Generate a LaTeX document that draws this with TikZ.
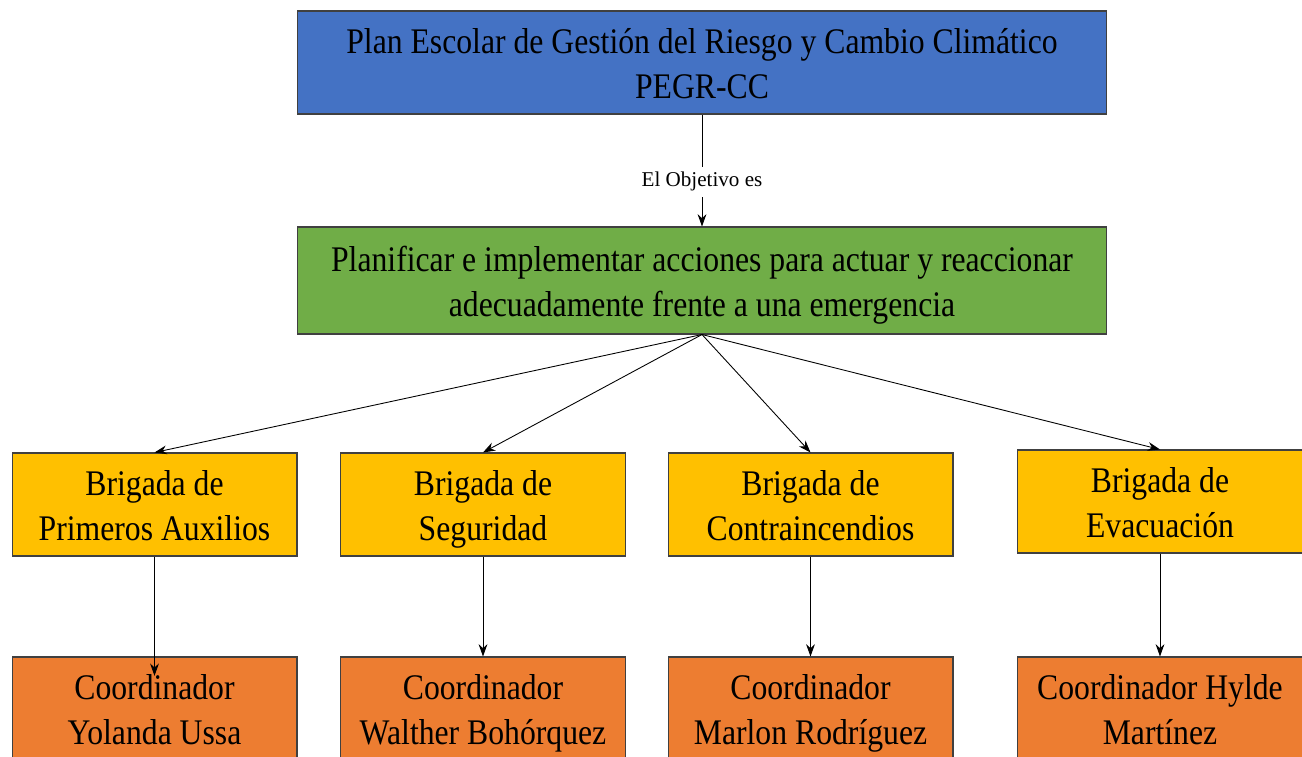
\documentclass[tikz,border=0pt]{standalone}
\usepackage{fontspec}
\setmainfont{Liberation Serif}
\newfontfamily\narrowserif{Liberation Serif}[FakeStretch=0.88]
\usetikzlibrary{arrows.meta}
\definecolor{planblue}{HTML}{4472C4}
\definecolor{goalgreen}{HTML}{70AD47}
\definecolor{brigyellow}{HTML}{FFC000}
\definecolor{coordorange}{HTML}{ED7D31}
\tikzset{
	% Box styles for each level of the chart
	base box/.style={rectangle,draw=black!75,line width=0.6pt,align=center,inner sep=0pt,
		font=\narrowserif\fontsize{20.5}{25.5}\selectfont,
		execute at begin node={\rule{0pt}{48.4pt}},execute at end node=\strut},
	plan box/.style={base box,fill=planblue,minimum width=16.2cm,minimum height=2.06cm},
	goal box/.style={base box,fill=goalgreen,minimum width=16.2cm,minimum height=2.14cm},
	brigade box/.style={base box,fill=brigyellow,minimum width=5.7cm,minimum height=2.06cm},
	coord box/.style={base box,fill=coordorange,minimum width=5.7cm,minimum height=2.06cm},
	link/.style={-{Stealth[length=7pt,width=5pt]},line width=0.5pt}
}
\begin{document}
\begin{tikzpicture}[x=0.02cm,y=-0.02cm]
	\useasboundingbox (0,0) rectangle (1302,757);
	% top of the chart
	\node(plan)[plan box] at (702,62.5){Plan Escolar de Gestión del Riesgo y Cambio Climático\\PEGR-CC};
	\node(goal)[goal box] at (702,280.5){Planificar e implementar acciones para actuar y reaccionar\\adecuadamente frente a una emergencia};
	\draw[link] (plan) -- node[pos=0.6,fill=white,inner sep=3pt,font=\fontsize{12}{14}\selectfont]{El Objetivo es} (goal);
	
	% brigades
	\node(brig-1)[brigade box] at (154.5,504.5){Brigada de\\Primeros Auxilios};
	\node(brig-2)[brigade box] at (483,504.5){Brigada de\\Seguridad};
	\node(brig-3)[brigade box] at (810.5,504.5){Brigada de\\Contraincendios};
	\node(brig-4)[brigade box] at (1160,501.5){Brigada de\\Evacuación};
	
	% coordinators
	\node(coord-1)[coord box] at (154.5,708.5){Coordinador\\Yolanda Ussa};
	\node(coord-2)[coord box] at (483,708.5){Coordinador\\Walther Bohórquez};
	\node(coord-3)[coord box] at (810.5,708.5){Coordinador\\Marlon Rodríguez};
	\node(coord-4)[coord box] at (1160,708.5){Coordinador Hylde\\Martínez};
	
	% connectors
	\foreach \i in {1,...,4}{
		\draw[link] (goal.south) -- (brig-\i.north);
	}
	\draw[link,shorten >=-11pt] (brig-1) -- (coord-1);
	\foreach \i in {2,3,4}{
		\draw[link] (brig-\i) -- (coord-\i);
	}
\end{tikzpicture}
\end{document}
